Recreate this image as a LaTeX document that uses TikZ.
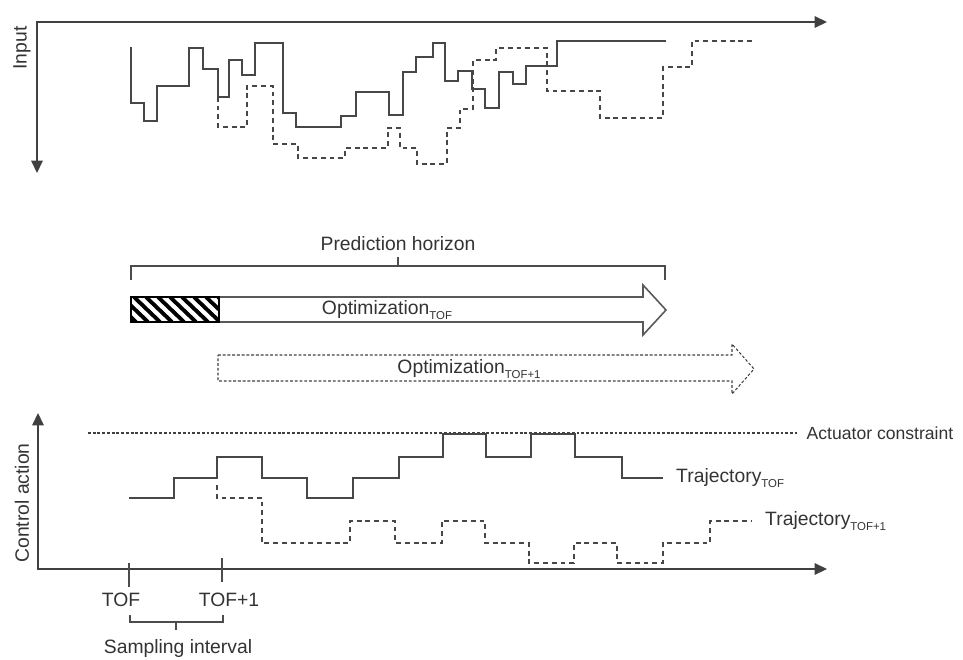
\documentclass[tikz,border=0pt]{standalone}
\usepackage{fontspec}
\setmainfont{Liberation Sans}
\usetikzlibrary{arrows.meta,positioning}
\newcommand{\subtag}[1]{\raisebox{-0.5ex}{\fontsize{6.5}{7}\selectfont #1}}

\begin{document}
\begin{tikzpicture}[x=0.02cm,y=-0.02cm,
    font=\fontsize{11}{13}\selectfont,
    every node/.style={text=black!80},
    axisline/.style={draw=black!75,line width=0.8pt,{Triangle[length=7pt,width=6.5pt]}-{Triangle[length=7pt,width=6.5pt]}},
    traj/.style={draw=black!72,line width=1.1pt},
    trajdash/.style={traj,line width=1pt,dash pattern=on 2.8pt off 2.2pt},
    finedash/.style={draw=black!75,line width=0.6pt,dash pattern=on 1.6pt off 1.1pt},
    bracket/.style={draw=black!70,line width=0.6pt}]
    \useasboundingbox (0,0) rectangle (963,659);

    % input plot
    \draw[axisline] (827,22) -- (37,22) -- (37,173);
    \node[rotate=90] (inlabel) at (22,48) {Input};
    \draw[traj] (131,47) |- (144,103) |- (157,121) |- (189,86) |- (203,48) |- (218,69)
        |- (229,97) |- (242,60) |- (255,75) |- (283,43) |- (296,113) |- (341,127)
        |- (356,116) |- (389,92) |- (403,115) |- (416,72) |- (433,57) |- (445,43)
        |- (458,81) |- (472,71) |- (485,89) |- (499,108) |- (513,72) |- (526,84)
        |- (557,66) |- (666,41);
    \draw[trajdash] (218,88) |- (247,127) |- (273,86) |- (298,144) |- (345,158)
        |- (388,148) |- (400,128) |- (417,148) |- (447,164) |- (460,128) |- (473,109)
        |- (496,60) |- (547,48) |- (600,91) |- (663,118) |- (692,67) |- (755,41);

    % horizons
    \draw[bracket] (131,280) -- (131,266) -- (665,266) -- (665,280);
    \draw[bracket] (398,266) -- (398,257) coordinate (phmid);
    \node[above=0pt of phmid] (phlabel) {Prediction horizon};

    \draw[draw=black!65,line width=0.9pt,fill=white] (131,297) -- (643,297) -- (643,285)
        -- (666,310) -- (643,335) -- (643,322) -- (131,322) -- cycle;
    \begin{scope}
        \clip (131,297) rectangle (219,322);
        \foreach \hx in {98,110,...,230}
            \draw[line width=2.2pt] (\hx,297) -- (\hx+26,322);
    \end{scope}
    \draw[line width=0.8pt] (131,297) rectangle (219,322);
    \node (opttof) at (387,310) {Optimization\subtag{TOF}};

    \draw[finedash] (218,355) -- (732,355) -- (732,344) -- (754,369) -- (732,394)
        -- (732,381) -- (218,381) -- cycle;
    \node (optnext) at (469,369) {Optimization\subtag{TOF+1}};

    % control plot
    \draw[axisline] (38,413) -- (38,569) -- (827,569);
    \node[rotate=90] (calabel) at (22,503) {Control action};
    \draw[finedash] (88,433) -- (797,433) coordinate (acend);
    \node[right=2pt of acend,font=\fontsize{10}{12}\selectfont] (aclabel) {Actuator constraint};

    \draw[traj] (129,498) -- (174,498) |- (217,478) |- (262,457) |- (307,478) |- (353,498)
        |- (399,478) |- (443,457) |- (486,434) |- (531,457) |- (575,434) |- (622,457)
        |- (663,478) coordinate (tofend);
    \node[right=4pt of tofend] (toflabel) {Trajectory\subtag{TOF}};
    \draw[trajdash] (217,485) |- (262,498) |- (350,543) |- (395,521) |- (442,543)
        |- (485,521) |- (529,543) |- (574,563) |- (617,543) |- (663,563) |- (710,543)
        |- (752,521) coordinate (nextend);
    \node[right=4pt of nextend] (nextlabel) {Trajectory\subtag{TOF+1}};

    \draw[bracket] (129,563) -- (129,587);
    \draw[bracket] (222,558) -- (222,582);
    \node (toftick) at (121,600) {TOF};
    \node (nexttick) at (229,600) {TOF+1};
    \draw[bracket] (130,615) -- (130,622) -- (223,622) -- (223,615);
    \draw[bracket] (176,622) -- (176,630);
    \node (silabel) at (178,648) {Sampling interval};
\end{tikzpicture}
\end{document}
